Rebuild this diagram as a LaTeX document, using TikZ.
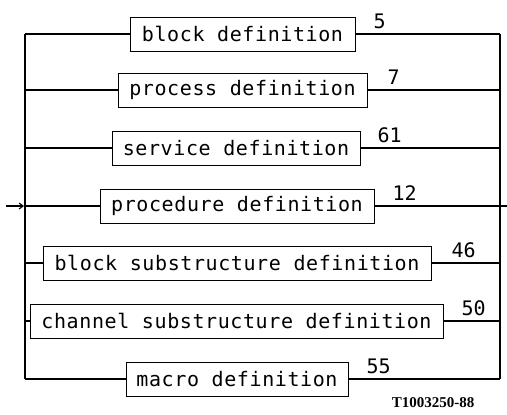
\documentclass[tikz,border=0pt]{standalone}
\usepackage{fontspec}
\newfontfamily\plotfont[LetterSpace=3]{DejaVu Sans Mono}
\newfontfamily\numfont{DejaVu Sans Mono}
\newfontfamily\capfont{Liberation Serif}
\usetikzlibrary{arrows.meta}
\tikzset{
  defbox/.style={draw, line width=1pt, minimum height=34pt, inner sep=0pt,
    font=\plotfont\fontsize{20}{20}\selectfont},
  conn/.style={line width=1.1pt},
  numlab/.style={anchor=south west, inner sep=0pt,
    font=\numfont\fontsize{20}{20}\selectfont},
}
\begin{document}
\begin{tikzpicture}[x=1pt,y=-1pt]
\useasboundingbox (0,0) rectangle (507,415);
% boxes
\node[defbox, minimum width=225pt] (b1) at (242.5,34) {block definition};
\node[defbox, minimum width=249pt] (b2) at (242.5,90) {process definition};
\node[defbox, minimum width=248pt] (b3) at (236,148) {service definition};
\node[defbox, minimum width=274pt] (b4) at (237,206) {procedure definition};
\node[defbox, minimum width=388pt] (b5) at (237,263) {block substructure definition};
\node[defbox, minimum width=413pt] (b6) at (236.5,321) {channel substructure definition};
\node[defbox, minimum width=222pt] (b7) at (237,379) {macro definition};
% junction coordinates
\coordinate (L1) at (25,34);  \coordinate (R1) at (500,34);
\coordinate (L2) at (25,90);  \coordinate (R2) at (500,90);
\coordinate (L3) at (25,148); \coordinate (R3) at (500,148);
\coordinate (L4) at (25,206); \coordinate (R4) at (500,206);
\coordinate (L5) at (25,263); \coordinate (R5) at (500,263);
\coordinate (L6) at (25,321); \coordinate (R6) at (500,321);
\coordinate (L7) at (25,379); \coordinate (R7) at (500,379);
\coordinate (in) at (6,206);
\coordinate (out) at (507,206);
% verticals
\draw[conn] (L1) -- (L7);
\draw[conn] (R1) -- (R7);
% branches
\foreach \i in {1,...,7} {
  \draw[conn] (L\i) -- (b\i.west);
  \draw[conn] (b\i.east) -- (R\i);
}
\draw[conn, -{Straight Barb[length=4pt,width=6pt]}] (in) -- ([xshift=-1pt]L4);
\draw[conn] (R4) -- (out);
% labels
\node[numlab] (n1) at ([xshift=18pt,yshift=5pt]b1.east) {5};
\node[numlab] (n2) at ([xshift=20pt,yshift=5pt]b2.east) {7};
\node[numlab] (n3) at ([xshift=17pt,yshift=5pt]b3.east) {61};
\node[numlab] (n4) at ([xshift=18pt,yshift=5pt]b4.east) {12};
\node[numlab] (n5) at ([xshift=20pt,yshift=5pt]b5.east) {46};
\node[numlab] (n6) at ([xshift=18pt,yshift=5pt]b6.east) {50};
\node[numlab] (n7) at ([xshift=18pt,yshift=5pt]b7.east) {55};
\node[font=\capfont\bfseries\fontsize{15}{15}\selectfont, inner sep=0pt] (cap) at (433,403) {T1003250-88};
\end{tikzpicture}
\end{document}
